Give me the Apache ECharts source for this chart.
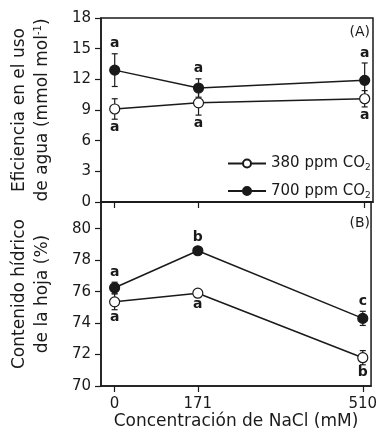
<!DOCTYPE html>
<html>
<head>
<meta charset="utf-8">
<script src="https://cdn.jsdelivr.net/npm/echarts@6/dist/echarts.min.js"></script>
<style>
  html, body { margin: 0; padding: 0; background: #fff; }
  #main { width: 380px; height: 440px; }
</style>
</head>
<body>
<div id="main"></div>
<script>
// NaCl concentrations (mM)
var nacl = [0, 171, 510];
var xTicks = [0, 171, 510];

// (A) eficiencia en el uso de agua
var wue380 = [9.1, 9.7, 10.1];
var wue380Err = [1.0, 1.2, 0.8];
var wue700 = [12.9, 11.15, 11.9];
var wue700Err = [1.6, 0.9, 1.7];
var wue380Let = ['a', 'a', 'a'];
var wue700Let = ['a', 'a', 'a'];
var wueTicks = [0, 3, 6, 9, 12, 15, 18];

// (B) contenido hidrico de la hoja
var rwc380 = [75.35, 75.9, 71.8];
var rwc380Err = [0.5, 0.2, 0.45];
var rwc700 = [76.25, 78.6, 74.3];
var rwc700Err = [0.35, 0.2, 0.45];
var rwc380Let = ['a', 'a', 'b'];
var rwc700Let = ['a', 'b', 'c'];
var rwcTicks = [70, 72, 74, 76, 78, 80];

var FONT = 'DejaVu Sans';
var INK = '#1a1a1a';

function pts(xs, ys, es) {
  return xs.map(function (x, i) { return es ? [x, ys[i], es[i]] : [x, ys[i]]; });
}

// error bar + significance letter
function errBars(letters, up) {
  return function (params, api) {
    var x = api.value(0), y = api.value(1), e = api.value(2);
    var hi = api.coord([x, y + e]);
    var lo = api.coord([x, y - e]);
    var st = { stroke: INK, lineWidth: 1.2 };
    var cap = 3;
    return {
      type: 'group',
      children: [
        { type: 'line', shape: { x1: hi[0], y1: hi[1], x2: lo[0], y2: lo[1] }, style: st },
        { type: 'line', shape: { x1: hi[0] - cap, y1: hi[1], x2: hi[0] + cap, y2: hi[1] }, style: st },
        { type: 'line', shape: { x1: lo[0] - cap, y1: lo[1], x2: lo[0] + cap, y2: lo[1] }, style: st },
        {
          type: 'text',
          x: hi[0],
          y: up ? hi[1] - 3 : lo[1] + 1,
          style: {
            text: letters[params.dataIndex],
            align: 'center',
            verticalAlign: up ? 'bottom' : 'top',
            font: 'bold 14px ' + FONT,
            fill: INK
          }
        }
      ]
    };
  };
}

function lineSeries(name, data, xi, yi, fill) {
  return {
    name: name,
    type: 'line',
    xAxisIndex: xi,
    yAxisIndex: yi,
    data: data,
    symbol: 'circle',
    symbolSize: 10,
    z: 5,
    lineStyle: { color: INK, width: 1.5 },
    itemStyle: { color: fill, borderColor: INK, borderWidth: 1.2 },
    emphasis: { disabled: true }
  };
}

function errSeries(data, xi, yi, letters, up) {
  return {
    type: 'custom',
    xAxisIndex: xi,
    yAxisIndex: yi,
    data: data,
    z: 3,
    renderItem: errBars(letters, up)
  };
}

var axisLineStyle = { onZero: false, lineStyle: { color: INK, width: 1.5 } };
var tickLine = { color: INK, width: 1.2 };
var labelStyle = { color: INK, fontFamily: FONT, fontSize: 15 };

var chart = echarts.init(document.getElementById('main'));

var option = {
  animation: false,
  backgroundColor: '#fff',
  grid: [
    { left: 98, right: 7, top: 18, height: 184, show: true, borderColor: INK, borderWidth: 1.5 },
    { left: 98, right: 7, top: 202, height: 184, show: true, borderColor: INK, borderWidth: 1.5 }
  ],
  legend: {
    data: ['380 ppm CO2', '700 ppm CO2'],
    orient: 'vertical',
    left: 222,
    top: 151,
    itemWidth: 38,
    itemHeight: 10,
    itemGap: 11,
    selectedMode: false,
    formatter: function (name) { return name.replace('CO2', 'CO{sub|2}'); },
    textStyle: {
      color: INK,
      fontFamily: FONT,
      fontSize: 15,
      rich: {
        sub: { fontSize: 9, fontFamily: FONT, color: INK, padding: [9, 0, 0, 0] }
      }
    }
  },
  xAxis: [
    {
      gridIndex: 0, type: 'value', min: -28, max: 527,
      axisLine: axisLineStyle,
      axisTick: { show: true, customValues: xTicks, length: 6, lineStyle: tickLine },
      axisLabel: { show: false },
      splitLine: { show: false }
    },
    {
      gridIndex: 1, type: 'value', min: -28, max: 527,
      name: 'Concentración de NaCl (mM)',
      nameLocation: 'middle',
      nameGap: 26,
      nameTextStyle: { color: INK, fontFamily: FONT, fontSize: 17 },
      axisLine: axisLineStyle,
      axisTick: { show: true, customValues: xTicks, length: 6, lineStyle: tickLine },
      axisLabel: Object.assign({ customValues: xTicks, margin: 11 }, labelStyle),
      splitLine: { show: false }
    }
  ],
  yAxis: [
    {
      gridIndex: 0, type: 'value', min: 0, max: 18, interval: 3,
      name: 'Eficiencia en el uso\nde agua (mmol mol{sup|-1})',
      nameLocation: 'middle',
      nameGap: 47,
      nameTextStyle: {
        color: INK, fontFamily: FONT, fontSize: 17, lineHeight: 23,
        rich: { sup: { fontSize: 10, fontFamily: FONT, color: INK, padding: [0, 0, 9, 0] } }
      },
      axisLine: axisLineStyle,
      axisTick: { show: true, length: 6, lineStyle: tickLine },
      axisLabel: Object.assign({ margin: 10 }, labelStyle),
      splitLine: { show: false }
    },
    {
      gridIndex: 1, type: 'value', min: 70, max: 81.7,
      name: 'Contenido hídrico\nde la hoja (%)',
      nameLocation: 'middle',
      nameGap: 47,
      nameTextStyle: { color: INK, fontFamily: FONT, fontSize: 17, lineHeight: 23 },
      axisLine: axisLineStyle,
      axisTick: { show: true, customValues: rwcTicks, length: 6, lineStyle: tickLine },
      axisLabel: Object.assign({ customValues: rwcTicks, margin: 10 }, labelStyle),
      splitLine: { show: false }
    }
  ],
  graphic: [
    { type: 'text', right: 10, top: 25, style: { text: '(A)', font: '14px ' + FONT, fill: INK } },
    { type: 'text', right: 10, top: 216, style: { text: '(B)', font: '14px ' + FONT, fill: INK } }
  ],
  series: [
    errSeries(pts(nacl, wue380, wue380Err), 0, 0, wue380Let, false),
    errSeries(pts(nacl, wue700, wue700Err), 0, 0, wue700Let, true),
    errSeries(pts(nacl, rwc380, rwc380Err), 1, 1, rwc380Let, false),
    errSeries(pts(nacl, rwc700, rwc700Err), 1, 1, rwc700Let, true),
    lineSeries('380 ppm CO2', pts(nacl, wue380), 0, 0, '#fff'),
    lineSeries('700 ppm CO2', pts(nacl, wue700), 0, 0, INK),
    lineSeries('380 ppm CO2', pts(nacl, rwc380), 1, 1, '#fff'),
    lineSeries('700 ppm CO2', pts(nacl, rwc700), 1, 1, INK)
  ]
};

chart.setOption(option);
</script>
</body>
</html>
